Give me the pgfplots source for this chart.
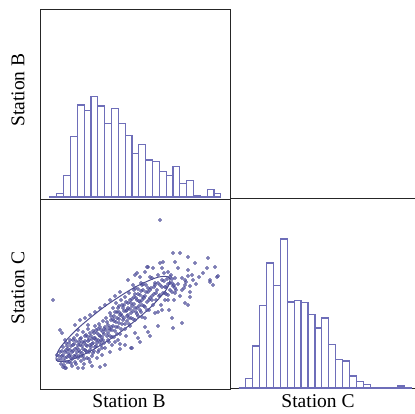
\documentclass[border=0pt]{standalone}
\usepackage{pgfplots}
\pgfplotsset{compat=1.18}
\usepackage{fontspec}
\setmainfont{Liberation Serif}
\definecolor{histc}{RGB}{110,110,185}
\definecolor{dotc}{RGB}{70,70,160}
\definecolor{ellc}{RGB}{80,80,145}
\pgfplotsset{panel/.style={scale only axis, anchor=south west, xtick=\empty, ytick=\empty,
  axis line style={line width=1pt, black!85}, clip=true}}
\begin{document}
\begin{tikzpicture}
\path[use as bounding box] (0pt,0pt) rectangle (415pt,413pt);
% Top-left: histogram of Station B
\begin{axis}[panel, at={(40.7pt,214pt)}, width=189.3pt, height=189.7pt,
  xmin=-1.36, xmax=26.35, ymin=-2, ymax=187.7]
\addplot[ybar interval, draw=histc, fill=white, line width=1.2pt] coordinates {
(0,0.7) (1,3.5) (2,21.3) (3,60.7) (4,92) (5,86.2) (6,100.3) (7,91) (8,73.6) (9,88.3)
(10,73.6) (11,61.2) (12,43.3) (13,52.2) (14,37) (15,35.2) (16,25.7) (17,21.5) (18,30.3)
(19,13.3) (20,16.5) (21,1.3) (22,0.2) (23,7.3) (24,3.7) (25,0)};
\end{axis}
% Bottom-left: scatter Station B vs Station C
\begin{axis}[panel, at={(40.7pt,24pt)}, width=189.3pt, height=190pt,
  xmin=40.7, xmax=230, ymin=199, ymax=389, y dir=reverse]
\addplot[only marks, mark=*, mark size=1.6pt, mark options={draw=dotc!85!black, fill=dotc!80, fill opacity=0.75, line width=0.35pt}] coordinates {
(58,360)(60,352)(61,364)(62,356)(63,347)(64,361)(65,352)(66,343)(66,368)(67,357)(68,349)(69,362)(70,340)(70,355)(71,346)(72,366)(72,359)(73,351)(74,338)(74,344)(75,362)(76,355)(77,348)(77,335)(78,368)(78,358)(79,342)(80,352)(81,361)(81,338)(82,346)(83,356)(83,332)(84,364)(85,350)(85,341)(86,335)(87,358)(87,346)(88,329)(89,352)(89,340)(90,362)(91,336)(91,347)(92,356)(93,331)(93,343)(94,351)(95,338)(95,326)(96,346)(97,358)(97,333)(98,340)(99,350)(99,324)(100,336)(101,345)(101,330)(102,355)(103,340)(103,321)(104,334)(105,348)(105,327)
(63,355)(65,358)(67,362)(68,353)(70,350)(71,358)(73,345)(74,356)(76,341)(77,352)(79,356)(80,345)(82,353)(84,343)(86,351)(88,337)(90,345)(92,339)(94,333)(96,340)(98,329)(100,342)(102,337)(104,329)
(106,318)(107,336)(108,325)(109,342)(110,313)(110,330)(111,320)(112,337)(113,308)(113,326)(114,316)(115,331)(116,303)(116,322)(117,312)(118,327)(119,306)(119,319)(120,334)(121,300)(121,314)(122,324)(123,308)(124,318)(125,297)(125,329)(126,311)(127,321)(128,303)(128,315)(129,293)(130,309)(130,326)(131,318)(132,299)(133,311)(133,285)(134,304)(135,320)(135,294)(136,312)(137,300)(138,289)(138,316)(139,306)(140,295)(141,283)(141,312)(142,300)(143,290)(144,306)(145,296)(145,318)(146,285)(147,302)(148,292)(149,310)(150,298)
(108,333)(111,327)(114,321)(117,318)(119,312)(122,316)(124,305)(127,310)(129,318)(131,303)(134,297)(137,308)(140,302)(143,297)(112,345)(118,340)(126,336)(120,349)(131,348)(115,342)
(151,288)(152,278)(153,305)(154,294)(155,283)(156,300)(157,290)(158,312)(158,275)(159,296)(160,285)(161,305)(162,280)(163,293)(164,273)(165,300)(166,287)(167,279)(168,295)(169,310)(170,283)(171,275)(172,292)(173,286)(174,300)(175,278)(176,290)(178,284)(180,296)(182,278)(184,288)(186,282)(188,276)(190,286)(193,280)(196,284)(199,277)
(173,253)(180,253)(188,257)(208,258)(215,267)(207,268)(195,263)(188,270)(192,275)(203,273)(210,280)(213,285)(217,277)(175,262)(178,268)(168,272)(160,263)(162,268)(153,268)(148,267)(145,272)(140,277)(135,275)(150,277)(170,277)(172,283)(185,280)(185,285)(190,292)(182,290)(175,288)(165,287)(155,285)(142,285)(135,288)(128,280)(137,273)(147,267)(163,262)(218,276)(210,282)
(185,303)(188,305)(190,297)(172,318)(182,323)(173,328)(148,332)(145,327)(138,338)(135,333)(155,313)(162,310)(168,300)(175,293)(145,307)(142,317)(152,300)(165,293)(132,348)
(160,220)(53,300)(60,330)(62,333)(65,340)(57,355)(65,368)(83,368)(100,367)(105,365)(92,366)(63,367)
(75,325)(80,320)(85,318)(90,315)(95,312)(100,308)(78,330)(88,325)(105,305)(110,300)(115,296)(120,292)
(110,352)(120,344)(125,345)(140,342)(150,336)(158,326)
(59,356)(61,359)(62,351)(64,365)(66,350)(67,346)(69,356)(69,343)(71,363)(72,352)(73,340)(75,349)(75,357)(76,364)(78,345)(79,350)(80,339)(81,356)(82,342)(83,349)(84,359)(85,336)(86,345)(87,352)(88,341)(89,359)(90,333)(90,350)(92,344)(93,353)(94,338)(95,347)(96,330)(97,343)(98,352)(99,335)(100,327)(101,340)(102,348)(103,332)(104,343)(106,330)(107,322)(108,340)(109,328)(110,336)(111,316)(112,330)(113,319)(114,337)(115,312)(116,327)(117,334)(118,308)(119,323)(120,315)(121,329)(122,305)(123,320)(124,311)(125,324)(126,302)(127,316)(128,308)(129,324)(130,300)(131,313)(132,306)(133,319)(134,290)(135,308)(136,298)(137,314)(138,294)(139,301)(140,310)(141,291)(142,305)(143,284)(144,298)(146,292)(147,310)(148,288)(149,300)(150,290)(152,296)(154,287)(156,293)(158,283)(160,295)(162,287)(164,281)(166,294)(168,284)(170,290)(172,279)(174,285)
};
\addplot[ellc, line width=1pt, smooth cycle] coordinates {
(169.6,277.8)(166.4,289.5)(148.9,308.9)(121.8,331.1)(92.3,350.1)(68.4,360.7)
(56.4,360.2)(59.6,348.5)(77.1,329.1)(104.2,306.9)(133.7,287.9)(157.6,277.3)};
\end{axis}
% Bottom-right: histogram of Station C
\begin{axis}[panel, at={(230pt,24.5pt)}, width=190pt, height=189.5pt,
  xmin=-2.27, xmax=25.19, ymin=-0.5, ymax=189]
\addplot[ybar interval, draw=histc, fill=white, line width=1.2pt] coordinates {
(-1,0) (0,9.5) (1,42) (2,82.5) (3,125) (4,102.5) (5,149) (6,86) (7,87.3) (8,85.2) (9,73.5)
(10,60) (11,70) (12,43.5) (13,28.5) (14,27) (15,12) (16,6.5) (17,3.5) (18,0) (19,0)
(20,0) (21,0) (22,2) (23,0) (24,0)};
\end{axis}
\node[rotate=90, font=\fontsize{19.5}{23}\selectfont] at (18pt,323pt) {Station B};
\node[rotate=90, font=\fontsize{19.5}{23}\selectfont] at (18pt,125pt) {Station C};
\node[font=\fontsize{19.5}{23}\selectfont] at (129pt,12pt) {Station B};
\node[font=\fontsize{19.5}{23}\selectfont] at (318pt,12pt) {Station C};
\end{tikzpicture}
\end{document}
